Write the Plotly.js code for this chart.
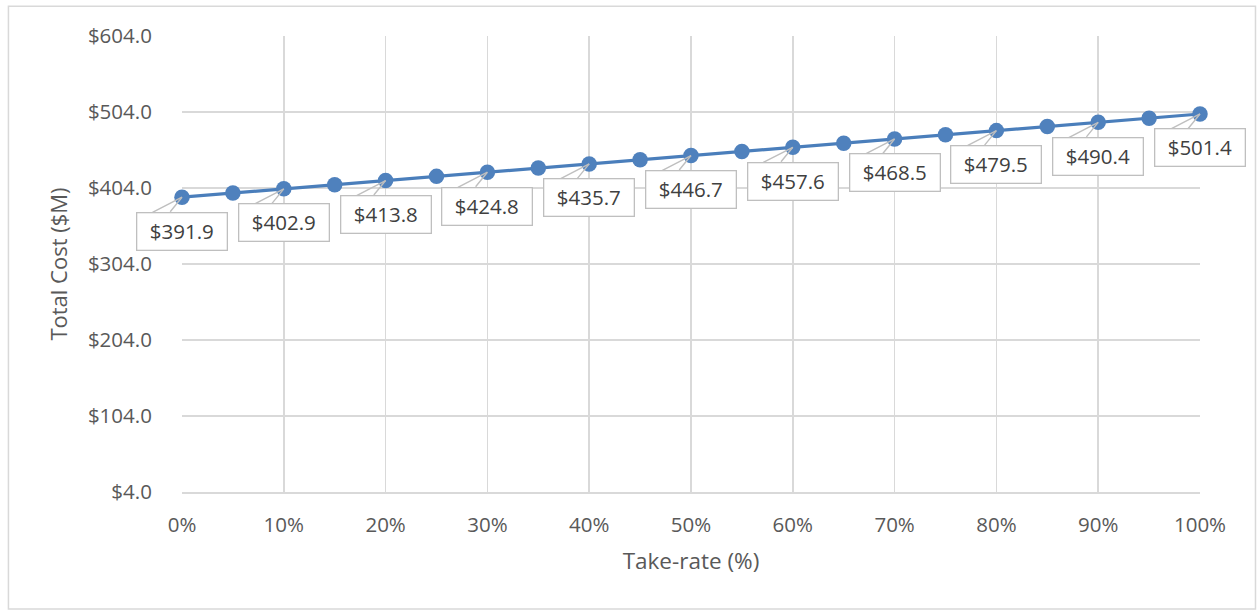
<!DOCTYPE html>
<html>
<head>
<meta charset="utf-8">
<script src="https://cdn.plot.ly/plotly-3.0.1.min.js"></script>
<style>
  html, body { margin: 0; padding: 0; background: #ffffff; }
  #chart { width: 1257px; height: 610px; }
</style>
</head>
<body>
<div id="chart"></div>
<script>
// ---- data ----
const takeRate = [0, 0.05, 0.10, 0.15, 0.20, 0.25, 0.30, 0.35, 0.40, 0.45, 0.50,
                  0.55, 0.60, 0.65, 0.70, 0.75, 0.80, 0.85, 0.90, 0.95, 1.00];
const totalCost = [391.9, 397.4, 402.9, 408.3, 413.8, 419.3, 424.8, 430.2, 435.7, 441.2, 446.7,
                   452.1, 457.6, 463.0, 468.5, 474.0, 479.5, 484.9, 490.4, 495.9, 501.4];
const labelRate = [0, 0.10, 0.20, 0.30, 0.40, 0.50, 0.60, 0.70, 0.80, 0.90, 1.00];
const labelCost = [391.9, 402.9, 413.8, 424.8, 435.7, 446.7, 457.6, 468.5, 479.5, 490.4, 501.4];
const xTitle = 'Take-rate (%)';
const yTitle = 'Total Cost ($M)';

const FONT = '"Open Sans", "Liberation Sans", sans-serif';
const GRID = '#d9d9d9';
const BOXLINE = '#bfbfbf';

const annotations = [];
labelRate.forEach((xr, i) => {
  const v = labelCost[i];
  // wedge callout lines
  [-31, -13].forEach(dx => {
    annotations.push({
      x: xr, y: v, xref: 'x', yref: 'y', text: '',
      showarrow: true, arrowhead: 0, arrowwidth: 1.4, arrowcolor: BOXLINE,
      ax: dx, ay: 16, standoff: 0, startstandoff: 0
    });
  });
  // label box
  annotations.push({
    x: xr, y: v, xref: 'x', yref: 'y',
    text: '$' + v.toFixed(1),
    showarrow: false, yshift: -34,
    width: 86, height: 33, borderpad: 1.5,
    bgcolor: '#ffffff', bordercolor: BOXLINE, borderwidth: 1.3,
    font: { family: FONT, size: 20.5, color: '#404040' }
  });
});

const trace = {
  x: takeRate, y: totalCost,
  type: 'scatter', mode: 'lines+markers',
  line: { color: '#4a7ebb', width: 3.2 },
  marker: { color: '#4f81bd', size: 15.5 },
  cliponaxis: false,
  hoverinfo: 'skip'
};

const layout = {
  width: 1257, height: 610,
  margin: { l: 182, r: 57, t: 36, b: 118 },
  paper_bgcolor: '#ffffff', plot_bgcolor: '#ffffff',
  showlegend: false,
  font: { family: FONT, color: '#595959' },
  xaxis: {
    range: [0, 1], tick0: 0, dtick: 0.1, tickformat: '.0%',
    showgrid: true, gridcolor: GRID, gridwidth: 1.5,
    zeroline: false, showline: true, linecolor: GRID, linewidth: 1.5,
    ticks: 'outside', ticklen: 14, tickcolor: 'rgba(0,0,0,0)',
    tickfont: { family: FONT, size: 20.5, color: '#595959' },
    title: { text: xTitle, font: { family: FONT, size: 22.5, color: '#595959' }, standoff: 16 },
    fixedrange: true
  },
  yaxis: {
    range: [4, 604], tick0: 4, dtick: 100, tickprefix: '$', tickformat: '.1f',
    showgrid: true, gridcolor: GRID, gridwidth: 1.5,
    zeroline: false, showline: false,
    ticks: 'outside', ticklen: 25, tickcolor: 'rgba(0,0,0,0)',
    tickfont: { family: FONT, size: 20.5, color: '#595959' },
    title: { text: yTitle, font: { family: FONT, size: 22, color: '#595959' }, standoff: 14 },
    fixedrange: true
  },
  annotations: annotations,
  shapes: [{
    type: 'rect', xref: 'paper', yref: 'paper',
    x0: -0.1705, x1: 1.0545, y0: -0.2565, y1: 1.065,
    line: { color: GRID, width: 1.5 }, fillcolor: 'rgba(0,0,0,0)', layer: 'below'
  }]
};

Plotly.newPlot('chart', [trace], layout, { displayModeBar: false, staticPlot: true });
</script>
</body>
</html>
